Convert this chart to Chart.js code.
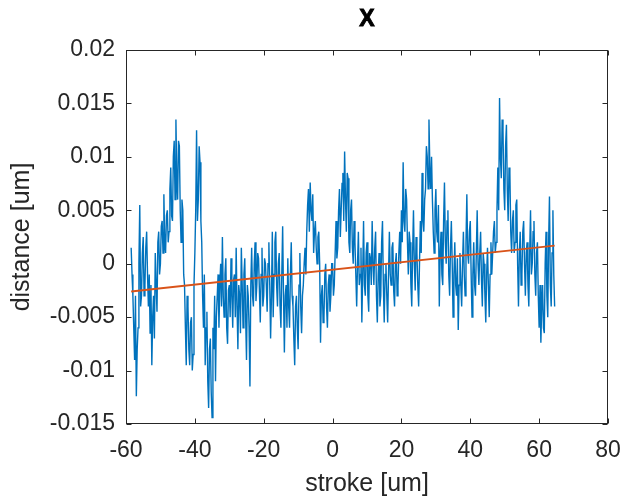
<!DOCTYPE html>
<html><head><meta charset="utf-8">
<script src="https://cdn.jsdelivr.net/npm/chart.js@4/dist/chart.umd.min.js"></script>
<style>html,body{margin:0;padding:0;background:#fff}canvas{display:block}</style>
</head><body><canvas id="c" width="620" height="497"></canvas>
<script>
// stroke positions: uniform sampling
const strokeStart = -58.5;
const strokeStep = 0.25;
const distance = [
  0.0015,-0.001,-0.003,-0.006,-0.009,-0.003,-0.0124,-0.008,-0.006,0,0.0055,-0.004,-0.003,0.001,0.0025,-0.003,-0.002,0.0015,0.003,-0.001,
  -0.004,-0.001,-0.0065,-0.002,-0.0095,-0.005,-0.003,-0.007,0.001,-0.002,-0.0045,0.002,0.003,-0.001,0,0.0035,0.004,0.001,0.0065,0.002,
  0.001,0.0045,0.005,0.002,0.003,0.007,0.009,0.0045,0.004,0.01,0.0115,0.006,0.0135,0.008,0.006,0.0115,0.011,0.005,0.002,0.006,
  0.005,-0.001,-0.002,-0.006,-0.0095,-0.003,-0.004,-0.008,-0.0095,-0.0055,-0.005,-0.01,-0.0085,-0.002,0.001,0.005,0.0125,0.004,0.006,0.011,
  0.0095,0.004,0.002,-0.003,-0.006,-0.001,-0.0095,-0.006,-0.0045,-0.011,-0.0135,-0.008,-0.007,-0.012,-0.0144,-0.006,-0.008,-0.003,-0.011,-0.005,
  -0.003,-0.001,-0.006,-0.002,0,-0.004,0.0025,-0.003,-0.005,-0.001,0.0005,-0.006,-0.0075,-0.0025,-0.002,-0.005,0.0005,-0.003,-0.006,-0.0015,
  -0.001,-0.005,0.0015,-0.004,-0.008,-0.002,-0.003,-0.0065,0.0015,-0.002,-0.006,-0.001,0.0005,-0.005,-0.009,-0.002,-0.003,-0.006,-0.0115,-0.002,
  0.0015,-0.003,-0.004,0,0.002,-0.0035,-0.002,0.001,0.0005,-0.0025,-0.0055,-0.001,0.0015,-0.004,-0.003,0.0005,0,-0.002,-0.0045,0,
  0.002,-0.002,-0.007,-0.003,0.003,-0.005,-0.001,0.002,0.003,-0.002,-0.004,0,0.001,-0.004,-0.006,-0.001,0.0035,-0.003,-0.0083,-0.003,
  -0.002,-0.006,0.0005,-0.004,-0.006,-0.001,0.002,-0.003,-0.004,-0.007,-0.0095,-0.004,-0.003,-0.006,-0.008,-0.002,0.001,-0.004,-0.0065,-0.003,
  -0.002,0,0.0015,-0.001,0.003,0.0055,0.007,0.003,0.0076,0.005,0.004,0.0065,0.001,0.003,0.004,0.0015,0,0.0025,0.003,0,
  -0.0074,-0.003,-0.002,-0.0055,-0.005,-0.001,0,-0.004,-0.006,-0.002,-0.001,-0.0045,-0.003,0,0,-0.003,-0.002,0.001,0.004,0.0005,
  0.0015,0.005,0.007,0.0025,0.005,0.0075,0.0085,0.004,0.0105,0.006,0.003,0.0085,0.008,0.002,0.001,0.005,0.006,0.0015,0,0.004,
  0.002,-0.001,-0.004,0,0.003,-0.002,-0.001,0.0015,-0.0055,-0.001,0.004,-0.002,-0.003,0.001,0.002,-0.003,-0.0045,0.001,0.0005,-0.002,
  0.004,0,-0.002,0.0015,0.003,-0.003,-0.0055,-0.001,0.001,-0.004,-0.003,0.002,0.004,-0.002,-0.0055,-0.001,0,-0.003,-0.0055,-0.001,
  0.003,-0.001,-0.002,0.0015,0.002,-0.0025,-0.004,0,0.001,-0.003,-0.002,0.001,0.003,0,0.005,0.002,0.0095,0.004,0.003,0.007,
  0.006,0.002,-0.001,0.003,0.002,-0.002,-0.004,0.001,0.005,0,-0.0025,0.0025,0.001,-0.002,-0.004,0,0.004,0.001,0.0085,0.004,
  0.003,0.006,0.007,0.011,0.01,0.007,0.0135,0.009,0.007,0.01,0.006,0.003,0.001,0.005,0.007,0.003,0.002,0.0055,-0.004,0.001,
  0.003,-0.001,-0.002,0.004,0.0076,0.002,0,0.004,0.005,-0.001,-0.003,0.0015,0.004,0,-0.005,-0.001,0.002,-0.002,-0.003,0.0005,
  -0.0062,-0.002,0.001,-0.002,-0.004,0,0.003,-0.001,-0.003,0.002,0.0065,0.001,0,0.003,0.004,-0.001,-0.005,-0.001,0.002,-0.002,
  -0.003,0.001,0.005,0,-0.002,0.001,0.003,-0.0015,-0.004,0.001,0,-0.003,-0.0055,-0.001,0.0015,-0.002,-0.005,-0.001,0.002,-0.001,
  0.001,0.003,0.004,0.001,0.002,0.005,0.009,0.005,0.0155,0.01,0.008,0.0135,0.0125,0.007,0.005,0.011,0.013,0.007,0.004,0.009,
  0.0085,0.003,0.001,0.004,0.005,0.001,0.002,0.0055,0.006,0,-0.004,0.001,0.003,-0.002,-0.001,0.003,0.004,0,-0.003,0.001,
  0.002,-0.002,-0.004,0.001,0.005,-0.001,0,0.003,0.004,-0.001,-0.003,0.001,0.002,-0.003,-0.006,-0.002,-0.0074,-0.004,-0.002,-0.006,
  -0.0065,0,0.003,-0.003,-0.005,0.002,0.0063,-0.002,-0.004,0.001,0.005,-0.001,-0.004
];
// linear fit end points
const fitStroke = [-58.5, 64.5];
const fitDistance = [-0.0026, 0.0017];
// tick labels
const xTicks = [-60, -40, -20, 0, 20, 40, 60, 80];
const yTicks = [-0.015, -0.01, -0.005, 0, 0.005, 0.01, 0.015, 0.02];
const titleText = 'X';
const xLabel = 'stroke [um]';
const yLabel = 'distance [um]';

const FONT = '"Liberation Sans", Arial, Helvetica, sans-serif';
const INK = '#262626';

const signalPts = distance.map((v, i) => ({x: strokeStart + i * strokeStep, y: v}));
const fitPts = fitStroke.map((s, i) => ({x: s, y: fitDistance[i]}));

const frame = {
  id: 'frame',
  afterDatasetsDraw(chart) {
    const {ctx, chartArea: a, scales: {x, y}} = chart;
    ctx.save();
    ctx.strokeStyle = INK;
    ctx.lineWidth = 1;
    const L = Math.round(a.left) + 0.5, R = Math.round(a.right) - 0.5;
    const T = Math.round(a.top) + 0.5, B = Math.round(a.bottom) - 0.5;
    ctx.strokeRect(L, T, R - L, B - T);
    const tl = 5;
    ctx.beginPath();
    xTicks.forEach(v => {
      const px = Math.round(x.getPixelForValue(v)) + 0.5;
      ctx.moveTo(px, B); ctx.lineTo(px, B - tl);
      ctx.moveTo(px, T); ctx.lineTo(px, T + tl);
    });
    yTicks.forEach(v => {
      const py = Math.round(y.getPixelForValue(v)) + 0.5;
      ctx.moveTo(L, py); ctx.lineTo(L + tl, py);
      ctx.moveTo(R, py); ctx.lineTo(R - tl, py);
    });
    ctx.stroke();
    ctx.fillStyle = '#000';
    ctx.strokeStyle = '#000';
    ctx.lineWidth = 0.9;
    ctx.font = '700 23px "Liberation Sans", Arial, sans-serif';
    ctx.textAlign = 'center';
    ctx.textBaseline = 'middle';
    const cx = (a.left + a.right) / 2;
    ctx.fillText(titleText, cx, 20);
    ctx.strokeText(titleText, cx, 20);
    ctx.restore();
  }
};

new Chart(document.getElementById('c'), {
  type: 'line',
  data: {
    datasets: [
      {data: fitPts, borderColor: '#D95319', borderWidth: 1.8, pointRadius: 0, order: 0},
      {data: signalPts, borderColor: '#0072BD', borderWidth: 1.4, pointRadius: 0, order: 1}
    ]
  },
  options: {
    responsive: false,
    animation: false,
    events: [],
    layout: {padding: {left: 0, right: 12, top: 50, bottom: 0}},
    plugins: {legend: {display: false}, tooltip: {enabled: false}, title: {display: false}},
    scales: {
      x: {
        type: 'linear', min: -60, max: 80,
        afterBuildTicks: s => { s.ticks = xTicks.map(v => ({value: v})); },
        afterFit: s => { s.height = 73; s.paddingLeft = 0; s.paddingRight = 0; },
        grid: {display: false, drawTicks: false, tickLength: 0},
        border: {display: false},
        ticks: {color: INK, font: {family: FONT, size: 23}, padding: 13, maxRotation: 0, autoSkip: false,
                callback: v => String(v)},
        title: {display: true, text: xLabel, color: INK, font: {family: FONT, size: 25, lineHeight: 1}, padding: 0}
      },
      y: {
        type: 'linear', min: -0.015, max: 0.02,
        afterBuildTicks: s => { s.ticks = yTicks.map(v => ({value: v})); },
        afterFit: s => { s.width = 126; s.paddingTop = 0; s.paddingBottom = 0; },
        grid: {display: false, drawTicks: false, tickLength: 0},
        border: {display: false},
        ticks: {color: INK, font: {family: FONT, size: 23}, padding: 11, autoSkip: false,
                callback: v => String(Number(v.toFixed(4)))},
        title: {display: true, text: yLabel, color: INK, font: {family: FONT, size: 25, lineHeight: 1}, padding: {top: 10, bottom: 0}}
      }
    }
  },
  plugins: [frame]
});
</script>
</body></html>
